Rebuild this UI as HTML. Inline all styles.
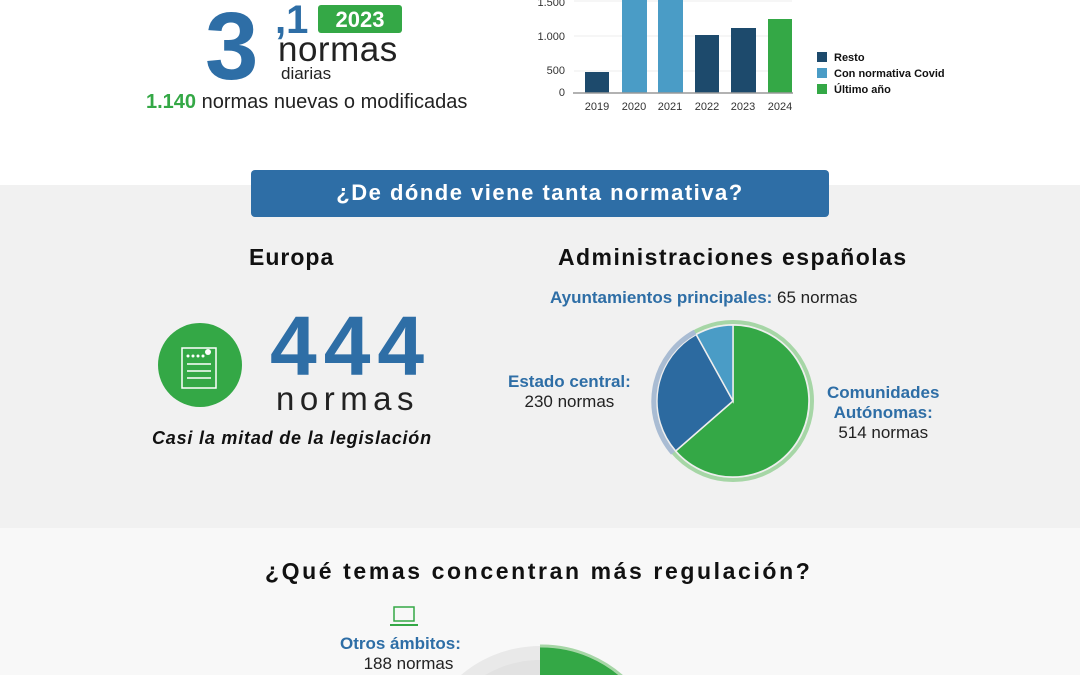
<!DOCTYPE html>
<html><head><meta charset="utf-8"><style>
body{margin:0;width:1080px;height:675px;overflow:hidden;background:#fff;font-family:"Liberation Sans",sans-serif;position:relative}
.a{position:absolute;white-space:nowrap}
.b{font-weight:bold}
</style></head><body>
<div class="a" style="left:0;top:185px;width:1080px;height:343px;background:#f1f1f1"></div>
<div class="a" style="left:0;top:528px;width:1080px;height:147px;background:#f8f8f8"></div>

<div class="a b" style="left:205px;top:-8px;font-size:96px;color:#2e6ea6;letter-spacing:-2px">3</div>
<div class="a b" style="left:275px;top:-2px;font-size:40px;color:#2e6ea6">,1</div>
<div class="a b" style="left:318px;top:5px;width:84px;height:28px;background:#34a846;border-radius:3px;color:#fff;font-size:22px;text-align:center;line-height:29px">2023</div>
<div class="a" style="left:278px;top:30px;font-size:35px;color:#222;letter-spacing:0.5px">normas</div>
<div class="a" style="left:281px;top:64px;font-size:17px;color:#222">diarias</div>
<div class="a" style="left:146px;top:91px;font-size:20px;color:#222"><span class="b" style="color:#34a846">1.140</span> normas nuevas o modificadas</div>

<svg class="a" style="left:530px;top:0" width="440" height="130">
<g stroke="#eee"><line x1="44" y1="1" x2="262" y2="1"/><line x1="44" y1="36" x2="262" y2="36"/><line x1="44" y1="71" x2="262" y2="71"/></g>
<g font-family="Liberation Sans" font-size="11" fill="#333" text-anchor="end">
<text x="35" y="6">1.500</text><text x="35" y="40">1.000</text><text x="35" y="74">500</text><text x="35" y="96">0</text></g>
<rect x="55" y="72" width="24" height="21" fill="#1d4a6c"/>
<rect x="92" y="0" width="25" height="93" fill="#4a9cc6"/>
<rect x="128" y="0" width="25" height="93" fill="#4a9cc6"/>
<rect x="165" y="35" width="24" height="58" fill="#1d4a6c"/>
<rect x="201" y="28" width="25" height="65" fill="#1d4a6c"/>
<rect x="238" y="19" width="24" height="74" fill="#34a846"/>
<line x1="43" y1="93" x2="263" y2="93" stroke="#999" stroke-width="1.5"/>
<g font-family="Liberation Sans" font-size="11" fill="#333" text-anchor="middle">
<text x="67" y="110">2019</text><text x="104" y="110">2020</text><text x="140" y="110">2021</text><text x="177" y="110">2022</text><text x="213" y="110">2023</text><text x="250" y="110">2024</text></g>
<rect x="287" y="52" width="10" height="10" fill="#1d4a6c"/><rect x="287" y="68" width="10" height="10" fill="#4a9cc6"/><rect x="287" y="84" width="10" height="10" fill="#34a846"/>
<g font-family="Liberation Sans" font-size="11" font-weight="bold" fill="#111"><text x="304" y="61">Resto</text><text x="304" y="77">Con normativa Covid</text><text x="304" y="93">Último año</text></g>
</svg>

<div class="a b" style="left:251px;top:170px;width:578px;height:47px;background:#2e6ea6;border-radius:4px;color:#fff;font-size:22px;text-align:center;line-height:46px;letter-spacing:1.5px">¿De dónde viene tanta normativa?</div>

<div class="a b" style="left:249px;top:244px;font-size:23px;color:#111;letter-spacing:1px">Europa</div>
<div class="a b" style="left:558px;top:244px;font-size:23px;color:#111;letter-spacing:1.45px">Administraciones españolas</div>

<div class="a" style="left:158px;top:323px;width:84px;height:84px;border-radius:50%;background:#34a846"></div>
<svg class="a" style="left:178px;top:340px" width="44" height="50"><rect x="4" y="8" width="34" height="40" fill="none" stroke="#fff" stroke-width="1.5"/><g stroke="#fff" stroke-width="1.5"><line x1="9" y1="24" x2="33" y2="24"/><line x1="9" y1="31" x2="33" y2="31"/><line x1="9" y1="38" x2="33" y2="38"/></g><g fill="#fff"><circle cx="10" cy="16" r="1.5"/><circle cx="15" cy="16" r="1.5"/><circle cx="20" cy="16" r="1.5"/><circle cx="25" cy="16" r="1.5"/><circle cx="30" cy="12" r="3"/></g></svg>
<div class="a b" style="left:270px;top:298px;font-size:84px;color:#2e6ea6;letter-spacing:7px">444</div>
<div class="a" style="left:276px;top:380px;font-size:33px;color:#222;letter-spacing:5.5px">normas</div>
<div class="a b" style="left:152px;top:428px;font-size:18px;color:#111;font-style:italic;letter-spacing:0.8px">Casi la mitad de la legislación</div>

<div class="a" style="left:550px;top:288px;font-size:17px;color:#222"><span class="b" style="color:#2e6ea6">Ayuntamientos principales:</span> 65 normas</div>
<div class="a" style="left:508px;top:372px;font-size:17px;color:#222;text-align:center"><span class="b" style="color:#2e6ea6">Estado central:</span><br>230 normas</div>
<div class="a" style="left:827px;top:383px;font-size:17px;color:#222;text-align:center;line-height:20px"><span class="b" style="color:#2e6ea6">Comunidades<br>Autónomas:</span><br>514 normas</div>

<svg class="a" style="left:640px;top:310px" width="180" height="180">
<g transform="translate(93,91)">
<circle r="79" fill="none" stroke="#a6d6a6" stroke-width="4"/>
<path d="M0 0 L0 -76 A76 76 0 1 1 -57.3 50 Z" fill="#34a846" stroke="#eee" stroke-width="1.5"/>
<path d="M0 0 L-57.3 50 A76 76 0 0 1 -36.8 -66.5 Z" fill="#2c6aa0" stroke="#eee" stroke-width="1.5"/>
<path d="M0 0 L-36.8 -66.5 A76 76 0 0 1 0 -76 Z" fill="#4a9cc6" stroke="#eee" stroke-width="1.5"/>
<path d="M-60 52 A79 79 0 0 1 -38 -69" fill="none" stroke="#a9bcd3" stroke-width="5"/>
</g></svg>

<div class="a b" style="left:265px;top:558px;font-size:23px;color:#111;letter-spacing:2.6px">¿Qué temas concentran más regulación?</div>
<svg class="a" style="left:390px;top:605px" width="30" height="24"><rect x="4" y="2" width="20" height="14" fill="none" stroke="#34a846" stroke-width="1.5"/><line x1="0" y1="20" x2="28" y2="20" stroke="#34a846" stroke-width="2"/></svg>
<div class="a" style="left:340px;top:634px;font-size:17px;color:#222;text-align:center;line-height:20px"><span class="b" style="color:#2e6ea6">Otros ámbitos:</span><br><span style="margin-left:16px">188 normas</span></div>
<svg class="a" style="left:420px;top:640px" width="240" height="35">
<circle cx="120" cy="128" r="122" fill="#e9e9e9"/><circle cx="120" cy="128" r="108" fill="#e2e2e2"/>
<path d="M120 128 L120 7 A121 121 0 0 1 210 46 Z" fill="#34a846"/>
<path d="M120 6 A122 122 0 0 1 211 45" fill="none" stroke="#a6d6a6" stroke-width="3"/>
</svg>
</body></html>
